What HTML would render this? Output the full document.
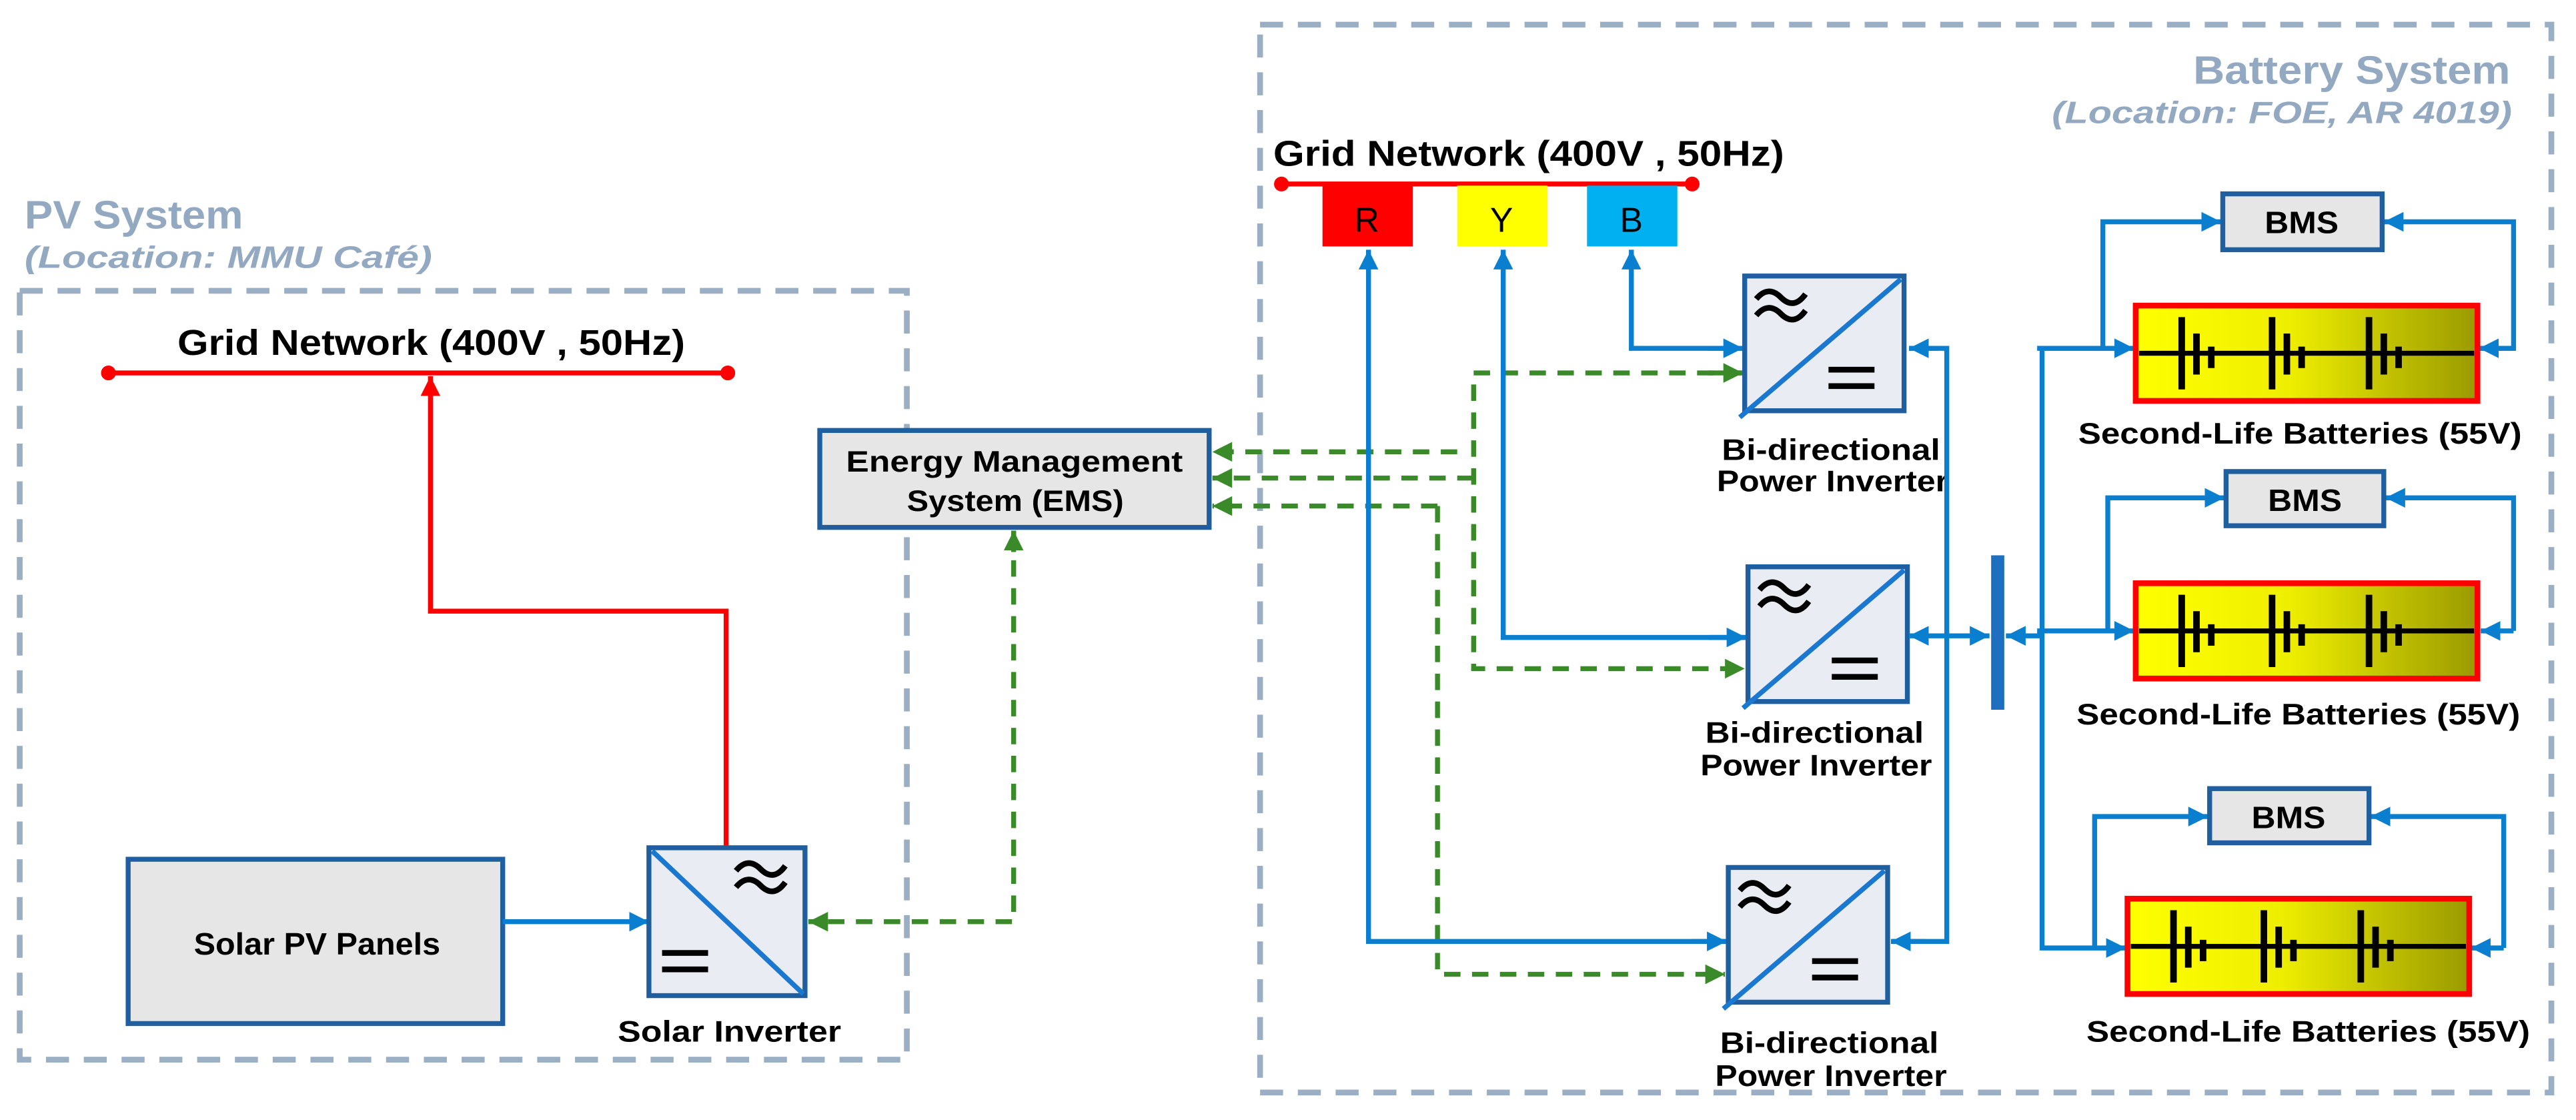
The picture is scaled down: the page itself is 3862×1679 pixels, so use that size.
<!DOCTYPE html>
<html><head><meta charset="utf-8"><style>
html,body{margin:0;padding:0;background:#fff;}
svg{display:block;}
text{font-family:"Liberation Sans","DejaVu Sans",sans-serif;font-weight:bold;}
</style></head><body>
<svg width="3862" height="1679" viewBox="0 0 1568 681.7" preserveAspectRatio="none" xmlns="http://www.w3.org/2000/svg">
<defs>
<marker id="ab" markerUnits="userSpaceOnUse" markerWidth="14" markerHeight="12" refX="12" refY="6" orient="auto"><path d="M0,0 L12,6 L0,12 Z" fill="#0a7fd0"/></marker>
<marker id="ar" markerUnits="userSpaceOnUse" markerWidth="14" markerHeight="12" refX="12" refY="6" orient="auto"><path d="M0,0 L12,6 L0,12 Z" fill="#ff0000"/></marker>
<marker id="ag" markerUnits="userSpaceOnUse" markerWidth="14" markerHeight="12" refX="12" refY="6" orient="auto"><path d="M0,0 L12,6 L0,12 Z" fill="#3a8a2a"/></marker>
<linearGradient id="bat" x1="0" x2="1" y1="0" y2="0"><stop offset="0" stop-color="#ffff00"/><stop offset="0.45" stop-color="#eeee00"/><stop offset="1" stop-color="#9a9a00"/></linearGradient>
<g id="wave"><path d="M0,5 C5,-1 10,-1 15,4 C20,9 25,9 30,2" fill="none" stroke="#000" stroke-width="3.5"/><path d="M0,15 C5,9 10,9 15,14 C20,19 25,19 30,12" fill="none" stroke="#000" stroke-width="3.5"/></g>
<g id="eq"><line x1="0" y1="0" x2="28" y2="0" stroke="#000" stroke-width="3.5"/><line x1="0" y1="10" x2="28" y2="10" stroke="#000" stroke-width="3.5"/></g>
<g id="binv">
<rect x="0" y="0" width="97" height="82" fill="#e9edf3" stroke="#1f5fa0" stroke-width="3"/>
<line x1="-3" y1="86" x2="95" y2="2" stroke="#1a78d0" stroke-width="3"/>
<use href="#wave" x="7" y="9"/>
<use href="#eq" x="51" y="57"/>
</g>
<g id="cells">
<line x1="0" y1="0" x2="0" y2="44" stroke="#000" stroke-width="4"/>
<line x1="9" y1="10" x2="9" y2="35" stroke="#000" stroke-width="4"/>
<line x1="18" y1="18" x2="18" y2="31" stroke="#000" stroke-width="4"/>
</g>
<g id="battery">
<rect x="0" y="0" width="208" height="58" fill="url(#bat)" stroke="#ff0000" stroke-width="3.5"/>
<line x1="2" y1="29" x2="206" y2="29" stroke="#000" stroke-width="3"/>
<use href="#cells" x="28" y="7"/>
<use href="#cells" x="83" y="7"/>
<use href="#cells" x="142" y="7"/>
</g>
</defs>

<rect x="12" y="177" width="540" height="468" fill="none" stroke="#9aaec4" stroke-width="3.5" stroke-dasharray="14,9"/>
<rect x="767" y="15" width="786" height="650" fill="none" stroke="#9aaec4" stroke-width="3.5" stroke-dasharray="14,9"/>

<text x="15" y="139" font-size="24" fill="#93a9c2" textLength="133" lengthAdjust="spacingAndGlyphs">PV System</text>
<text x="15" y="163" font-size="19" fill="#93a9c2" font-style="italic" textLength="248" lengthAdjust="spacingAndGlyphs">(Location:  MMU Café)</text>
<text x="1335" y="51" font-size="24" fill="#93a9c2" textLength="193" lengthAdjust="spacingAndGlyphs">Battery System</text>
<text x="1249" y="75" font-size="19" fill="#93a9c2" font-style="italic" textLength="280" lengthAdjust="spacingAndGlyphs">(Location:  FOE, AR 4019)</text>

<text x="108" y="216" font-size="22" fill="#000" textLength="309" lengthAdjust="spacingAndGlyphs">Grid Network (400V , 50Hz)</text>
<line x1="66" y1="227" x2="443" y2="227" stroke="#ff0000" stroke-width="3"/>
<circle cx="66" cy="227" r="4.5" fill="#ff0000"/><circle cx="443" cy="227" r="4.5" fill="#ff0000"/>
<polyline points="442,516 442,372 262,372 262,229" fill="none" stroke="#ff0000" stroke-width="3" marker-end="url(#ar)"/>

<rect x="78" y="523" width="228" height="100" fill="#e6e6e6" stroke="#1f5fa0" stroke-width="3"/>
<text x="118" y="581" font-size="19" fill="#000" textLength="150" lengthAdjust="spacingAndGlyphs">Solar PV Panels</text>
<line x1="306" y1="561" x2="395" y2="561" stroke="#0a7fd0" stroke-width="3" marker-end="url(#ab)"/>

<rect x="395" y="516" width="95" height="90" fill="#e9edf3" stroke="#1f5fa0" stroke-width="3"/>
<line x1="397" y1="518" x2="489" y2="605" stroke="#1a78d0" stroke-width="3"/>
<use href="#wave" x="448" y="525"/>
<use href="#eq" x="403" y="580"/>
<text x="376" y="634" font-size="18" fill="#000" textLength="136" lengthAdjust="spacingAndGlyphs">Solar Inverter</text>

<rect x="499" y="262" width="237" height="59" fill="#e6e6e6" stroke="#1f5fa0" stroke-width="3"/>
<text x="515" y="287" font-size="18" fill="#000" textLength="205" lengthAdjust="spacingAndGlyphs">Energy Management</text>
<text x="552" y="311" font-size="18" fill="#000" textLength="132" lengthAdjust="spacingAndGlyphs">System (EMS)</text>

<polyline points="617,324 617,561 492,561" fill="none" stroke="#3a8a2a" stroke-width="3" stroke-dasharray="10,7" marker-end="url(#ag)"/>
<line x1="617" y1="336" x2="617" y2="323" stroke="#3a8a2a" stroke-width="3" marker-end="url(#ag)"/>

<line x1="887" y1="275" x2="738" y2="275" stroke="#3a8a2a" stroke-width="3" stroke-dasharray="10,7" marker-end="url(#ag)"/>
<line x1="897" y1="291" x2="738" y2="291" stroke="#3a8a2a" stroke-width="3" stroke-dasharray="10,7" marker-end="url(#ag)"/>
<polyline points="875,308 875,593 1050,593" fill="none" stroke="#3a8a2a" stroke-width="3" stroke-dasharray="10,7" marker-end="url(#ag)"/>
<line x1="875" y1="308" x2="738" y2="308" stroke="#3a8a2a" stroke-width="3" stroke-dasharray="10,7" marker-end="url(#ag)"/>
<polyline points="1060,227 897,227 897,407 1062,407" fill="none" stroke="#3a8a2a" stroke-width="3" stroke-dasharray="10,7" marker-end="url(#ag)"/>
<line x1="1040" y1="227" x2="1061" y2="227" stroke="#3a8a2a" stroke-width="3" marker-end="url(#ag)"/>

<text x="775" y="101" font-size="22" fill="#000" textLength="311" lengthAdjust="spacingAndGlyphs">Grid Network (400V , 50Hz)</text>
<line x1="780" y1="112" x2="1030" y2="112" stroke="#ff0000" stroke-width="3"/>
<circle cx="780" cy="112" r="4.5" fill="#ff0000"/><circle cx="1030" cy="112" r="4.5" fill="#ff0000"/>
<rect x="805" y="113" width="55" height="37" fill="#ff0000"/>
<rect x="887" y="113" width="55" height="37" fill="#ffff00"/>
<rect x="966" y="113" width="55" height="37" fill="#00b0f0"/>
<text x="832" y="141" font-size="21" style="font-weight:normal" text-anchor="middle">R</text>
<text x="914" y="141" font-size="21" style="font-weight:normal" text-anchor="middle">Y</text>
<text x="993" y="141" font-size="21" style="font-weight:normal" text-anchor="middle">B</text>

<polyline points="1060,212 993,212 993,152" fill="none" stroke="#0a7fd0" stroke-width="3" marker-end="url(#ab)"/>
<line x1="1040" y1="212" x2="1061" y2="212" stroke="#0a7fd0" stroke-width="3" marker-end="url(#ab)"/>
<polyline points="1062,388 915,388 915,152" fill="none" stroke="#0a7fd0" stroke-width="3" marker-end="url(#ab)"/>
<line x1="1040" y1="388" x2="1063" y2="388" stroke="#0a7fd0" stroke-width="3" marker-end="url(#ab)"/>
<polyline points="1050,573 833,573 833,152" fill="none" stroke="#0a7fd0" stroke-width="3" marker-end="url(#ab)"/>
<line x1="1030" y1="573" x2="1051" y2="573" stroke="#0a7fd0" stroke-width="3" marker-end="url(#ab)"/>

<use href="#binv" x="1062" y="168"/>
<use href="#binv" x="1064" y="345"/>
<use href="#binv" x="1052" y="528"/>
<text x="1048" y="280" font-size="18" fill="#000" textLength="133" lengthAdjust="spacingAndGlyphs">Bi-directional</text>
<text x="1045" y="299" font-size="18" fill="#000" textLength="141" lengthAdjust="spacingAndGlyphs">Power Inverter</text>
<text x="1038" y="452" font-size="18" fill="#000" textLength="133" lengthAdjust="spacingAndGlyphs">Bi-directional</text>
<text x="1035" y="472" font-size="18" fill="#000" textLength="141" lengthAdjust="spacingAndGlyphs">Power Inverter</text>
<text x="1047" y="641" font-size="18" fill="#000" textLength="133" lengthAdjust="spacingAndGlyphs">Bi-directional</text>
<text x="1044" y="661" font-size="18" fill="#000" textLength="141" lengthAdjust="spacingAndGlyphs">Power Inverter</text>

<polyline points="1162,212 1185,212 1185,573 1152,573" fill="none" stroke="#0a7fd0" stroke-width="3"/>
<line x1="1180" y1="212" x2="1162" y2="212" stroke="#0a7fd0" stroke-width="3" marker-end="url(#ab)"/>
<line x1="1172" y1="573" x2="1151" y2="573" stroke="#0a7fd0" stroke-width="3" marker-end="url(#ab)"/>
<line x1="1185" y1="387" x2="1162" y2="387" stroke="#0a7fd0" stroke-width="3" marker-end="url(#ab)"/>
<line x1="1185" y1="387" x2="1211" y2="387" stroke="#0a7fd0" stroke-width="3" marker-end="url(#ab)"/>
<rect x="1212" y="338" width="8" height="94" fill="#1f6fc0"/>
<line x1="1243" y1="387" x2="1221" y2="387" stroke="#0a7fd0" stroke-width="3" marker-end="url(#ab)"/>
<polyline points="1299,212 1243,212 1243,577 1294,577" fill="none" stroke="#0a7fd0" stroke-width="3" marker-end="url(#ab)"/>
<line x1="1240" y1="212" x2="1299" y2="212" stroke="#0a7fd0" stroke-width="3" marker-end="url(#ab)"/>
<line x1="1240" y1="384" x2="1299" y2="384" stroke="#0a7fd0" stroke-width="3" marker-end="url(#ab)"/>

<polyline points="1280,212 1280,135 1352,135" fill="none" stroke="#0a7fd0" stroke-width="3" marker-end="url(#ab)"/>
<polyline points="1510,212 1530,212 1530,135 1451,135" fill="none" stroke="#0a7fd0" stroke-width="3" marker-end="url(#ab)"/>
<line x1="1530" y1="212" x2="1509" y2="212" stroke="#0a7fd0" stroke-width="3" marker-end="url(#ab)"/>
<polyline points="1283,384 1283,303 1354,303" fill="none" stroke="#0a7fd0" stroke-width="3" marker-end="url(#ab)"/>
<polyline points="1530,384 1530,303 1452,303" fill="none" stroke="#0a7fd0" stroke-width="3" marker-end="url(#ab)"/>
<line x1="1530" y1="384" x2="1510" y2="384" stroke="#0a7fd0" stroke-width="3" marker-end="url(#ab)"/>
<polyline points="1275,577 1275,497 1344,497" fill="none" stroke="#0a7fd0" stroke-width="3" marker-end="url(#ab)"/>
<polyline points="1524,577 1524,497 1443,497" fill="none" stroke="#0a7fd0" stroke-width="3" marker-end="url(#ab)"/>
<line x1="1524" y1="577" x2="1504" y2="577" stroke="#0a7fd0" stroke-width="3" marker-end="url(#ab)"/>

<rect x="1353" y="118" width="97" height="34" fill="#e6e6e6" stroke="#1f5fa0" stroke-width="3"/>
<text x="1401" y="142" font-size="19" text-anchor="middle" textLength="45" lengthAdjust="spacingAndGlyphs">BMS</text>
<rect x="1355" y="287" width="96" height="33" fill="#e6e6e6" stroke="#1f5fa0" stroke-width="3"/>
<text x="1403" y="311" font-size="19" text-anchor="middle" textLength="45" lengthAdjust="spacingAndGlyphs">BMS</text>
<rect x="1345" y="480" width="97" height="33" fill="#e6e6e6" stroke="#1f5fa0" stroke-width="3"/>
<text x="1393" y="504" font-size="19" text-anchor="middle" textLength="45" lengthAdjust="spacingAndGlyphs">BMS</text>

<use href="#battery" x="1300" y="186"/>
<use href="#battery" x="1300" y="355"/>
<use href="#battery" x="1295" y="547"/>
<text x="1265" y="270" font-size="18" textLength="270" lengthAdjust="spacingAndGlyphs">Second-Life Batteries (55V)</text>
<text x="1264" y="441" font-size="18" textLength="270" lengthAdjust="spacingAndGlyphs">Second-Life Batteries (55V)</text>
<text x="1270" y="634" font-size="18" textLength="270" lengthAdjust="spacingAndGlyphs">Second-Life Batteries (55V)</text>
</svg>
</body></html>
